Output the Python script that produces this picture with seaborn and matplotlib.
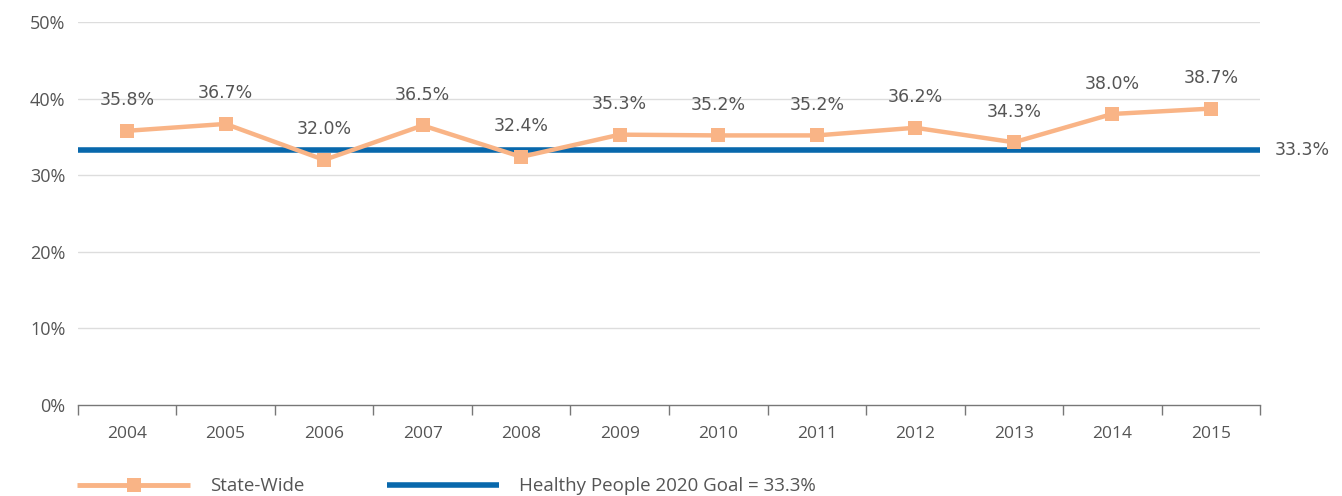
import pandas as pd
import seaborn as sns
import matplotlib.pyplot as plt
from matplotlib.lines import Line2D

years = ['2004', '2005', '2006', '2007', '2008', '2009', '2010', '2011', '2012', '2013', '2014', '2015']
state_wide = [35.8, 36.7, 32.0, 36.5, 32.4, 35.3, 35.2, 35.2, 36.2, 34.3, 38.0, 38.7]
goal = 33.3

orange = '#F9B486'
blue = '#0868AC'
txt = '#555555'

sns.set_style('white')
plt.rcParams['font.family'] = ['Open Sans', 'DejaVu Sans']
valfont = ['DejaVu Sans']

dados = pd.DataFrame({'Ano': years, 'Valor': state_wide})

fig = plt.figure(figsize=(13.42, 4.96), dpi=100)
ax = fig.add_axes([0.058, 0.1835, 0.881, 0.772])

for y in range(10, 60, 10):
    ax.axhline(y, color='#DDDDDD', lw=1, zorder=0)

ax.axhline(goal, color=blue, lw=4, zorder=1)
sns.lineplot(data=dados, x='Ano', y='Valor', ax=ax, color=orange, lw=3.2,
             marker='s', markersize=10, markeredgewidth=0, sort=False, zorder=3)

for i, v in enumerate(state_wide):
    ax.text(i, v + 2.8, f'{v:.1f}%', ha='center', va='bottom', fontsize=12.5,
            color=txt, family=valfont)

ax.text(11.65, goal, f'{goal}%', ha='left', va='center', fontsize=12.5,
        color=txt, family=valfont)

ax.set_xlim(-0.5, len(years) - 0.5)
ax.set_ylim(0, 50)
ax.set_yticks(range(0, 60, 10))
ax.set_yticklabels([f'{y}%' for y in range(0, 60, 10)])
ax.set_xticks(range(len(years)))
ax.set_xticklabels(years)
ax.set_xticks([i - 0.5 for i in range(len(years) + 1)], minor=True)
ax.tick_params(axis='x', which='major', bottom=False, length=0, pad=15, labelsize=12.5, labelcolor=txt)
ax.tick_params(axis='x', which='minor', bottom=True, length=7, width=1, color='#777777', direction='out')
ax.tick_params(axis='y', length=0, labelsize=13, labelcolor=txt, pad=9)
ax.set_xlabel('')
ax.set_ylabel('')

for s in ['top', 'right', 'left']:
    ax.spines[s].set_visible(False)
ax.spines['bottom'].set_color('#777777')
ax.spines['bottom'].set_linewidth(1)

handles = [
    Line2D([], [], color=orange, lw=3.5, marker='s', markersize=10, markeredgewidth=0,
           solid_capstyle='butt'),
    Line2D([], [], color=blue, lw=4, solid_capstyle='butt'),
]
leg = fig.legend(handles, ['State-Wide', 'Healthy People 2020 Goal = 33.3%'],
                 loc='lower left', bbox_to_anchor=(0.045, -0.033), ncol=2, frameon=False,
                 handlelength=6.0, handletextpad=1.07, columnspacing=4.4, fontsize=13.5)
for t in leg.get_texts():
    t.set_color(txt)

plt.savefig('out.png', dpi=100)
